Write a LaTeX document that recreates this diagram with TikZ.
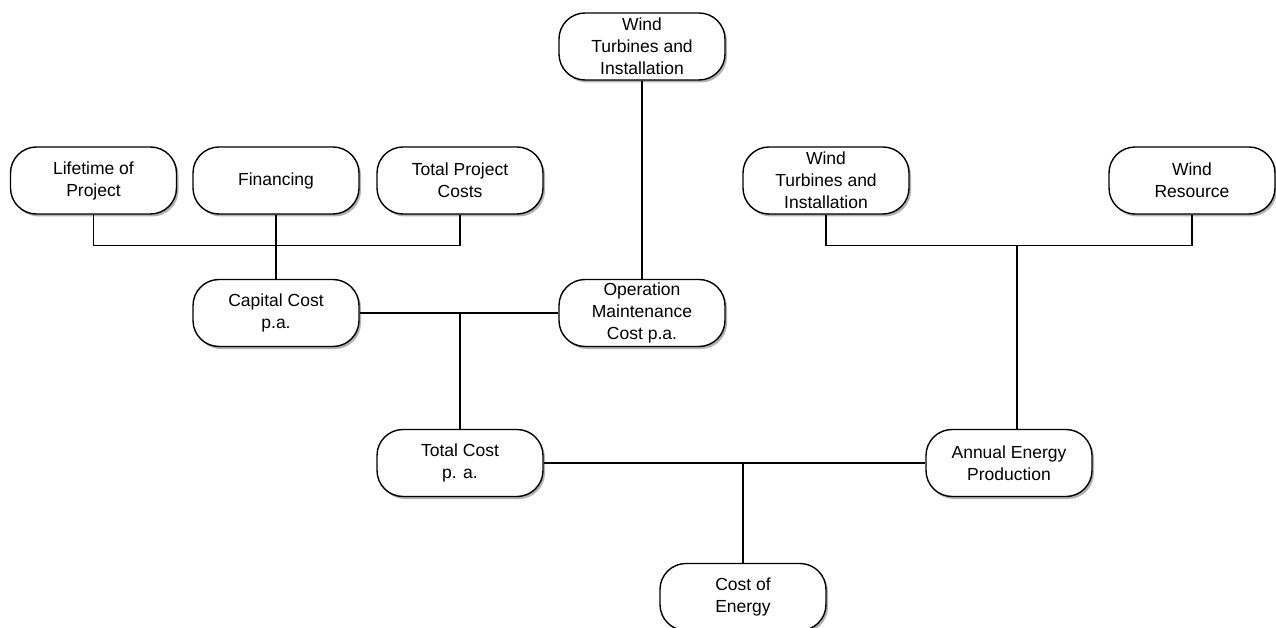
\documentclass[tikz,border=0pt]{standalone}
\usepackage{fontspec}
\setmainfont{Liberation Sans}
\usetikzlibrary{shadows}
\begin{document}
\begin{tikzpicture}[x=1pt,y=-1pt,
  box/.style={draw, line width=1.4pt, rounded corners=26pt, fill=white,
    minimum width=166pt, minimum height=67pt, align=center, inner sep=0pt,
    font=\fontsize{17.5}{22}\selectfont,
    drop shadow={shadow xshift=2pt, shadow yshift=-2.5pt, fill=black, opacity=0.3}},
  link/.style={line width=1.4pt}]
\clip (0,0) rectangle (1276,628);
\fill[white] (0,0) rectangle (1276,628);

% upper row of inputs
\node[box] (life) at (93.5,180.5) {Lifetime of\\Project};
\node[box] (fin)  at (276,180.5)  {Financing};
\node[box] (tpc)  at (460,180.5)  {Total Project\\Costs};
\node[box] (wtop) at (642,46.5)   {Wind\\Turbines and\\Installation};
\node[box] (wtr)  at (826,180.5)  {Wind\\Turbines and\\Installation};
\node[box] (wres) at (1192,180.5) {Wind\\Resource};

% intermediate quantities
\node[box] (cap)  at (276,313)    {Capital Cost\\p.a.};
\node[box] (om)   at (642,313)    {Operation\\Maintenance\\Cost p.a.};
\node[box] (tc)   at (460,463)    {Total Cost\\p. a.};
\node[box] (aep)  at (1009,463)   {Annual Energy\\Production};
\node[box] (coe)  at (743,597)    {Cost of\\Energy};

% connectors
\draw[link] (life.south) -- ++(0,31) -| (tpc.south);
\draw[link] (fin.south) -- (cap.north);
\draw[link] (cap.east) -- (om.west);
\draw[link] (wtop.south) -- (om.north);
\draw[link] (tc.north) -- (tc.north |- cap.east);
\draw[link] (wtr.south) -- ++(0,31) -| (wres.south);
\coordinate (rj) at (1017,245);
\draw[link] (rj) -- (rj |- aep.north);
\draw[link] (tc.east) -- (aep.west);
\draw[link] (coe.north) -- (coe.north |- tc.east);
\end{tikzpicture}
\end{document}
